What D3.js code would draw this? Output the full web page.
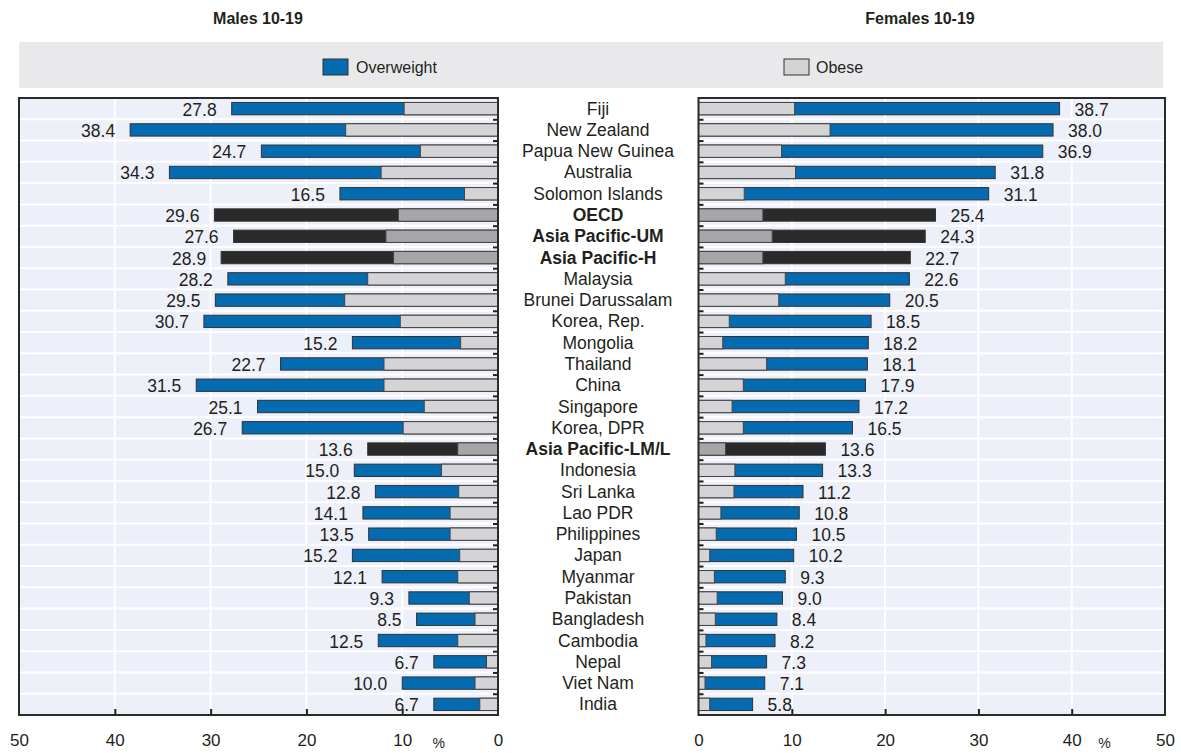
<!DOCTYPE html>
<html>
<head>
<script src="https://d3js.org/d3.v7.min.js"></script>
<style>
  body { margin: 0; background: #fff; }
  text { font-family: "Liberation Sans", Arial, sans-serif; fill: #231f20; }
</style>
</head>
<body>
<div id="chart"></div>
<script>
// categories, top to bottom
const countries = ["Fiji", "New Zealand", "Papua New Guinea", "Australia", "Solomon Islands",
  "OECD", "Asia Pacific-UM", "Asia Pacific-H", "Malaysia", "Brunei Darussalam", "Korea, Rep.",
  "Mongolia", "Thailand", "China", "Singapore", "Korea, DPR", "Asia Pacific-LM/L", "Indonesia",
  "Sri Lanka", "Lao PDR", "Philippines", "Japan", "Myanmar", "Pakistan", "Bangladesh",
  "Cambodia", "Nepal", "Viet Nam", "India"];
const aggregates = ["OECD", "Asia Pacific-UM", "Asia Pacific-H", "Asia Pacific-LM/L"];

// overweight (incl. obese) and obese, %
const maleOverweight = [27.8, 38.4, 24.7, 34.3, 16.5, 29.6, 27.6, 28.9, 28.2, 29.5, 30.7,
  15.2, 22.7, 31.5, 25.1, 26.7, 13.6, 15.0, 12.8, 14.1, 13.5, 15.2, 12.1, 9.3, 8.5, 12.5, 6.7, 10.0, 6.7];
const maleObese = [9.8, 15.9, 8.1, 12.2, 3.5, 10.4, 11.7, 10.9, 13.6, 16.0, 10.2,
  3.9, 11.9, 11.9, 7.7, 9.9, 4.2, 5.9, 4.1, 5.0, 5.0, 4.0, 4.2, 3.0, 2.4, 4.2, 1.2, 2.4, 1.9];
const femaleOverweight = [38.7, 38.0, 36.9, 31.8, 31.1, 25.4, 24.3, 22.7, 22.6, 20.5, 18.5,
  18.2, 18.1, 17.9, 17.2, 16.5, 13.6, 13.3, 11.2, 10.8, 10.5, 10.2, 9.3, 9.0, 8.4, 8.2, 7.3, 7.1, 5.8];
const femaleObese = [10.3, 14.1, 8.9, 10.4, 4.9, 6.9, 7.9, 6.9, 9.3, 8.6, 3.3,
  2.6, 7.3, 4.8, 3.6, 4.8, 2.9, 3.9, 3.8, 2.4, 1.9, 1.2, 1.7, 2.0, 1.8, 0.8, 1.4, 0.7, 1.2];

const xTicks = [0, 10, 20, 30, 40, 50];

const width = 1181, height = 753;
const plotTop = 98, plotBottom = 715;

const svg = d3.select("#chart").append("svg")
  .attr("width", width)
  .attr("height", height);

const y = d3.scaleBand().domain(countries).range([plotTop, plotBottom]).padding(0);
const rowIdx = d3.scaleLinear().domain([0, countries.length]).range([plotTop, plotBottom]);
const barH = y.bandwidth() * 0.58;

const colors = {
  over: "#046bb0", obese: "#d4d4d6",
  overAgg: "#2b2a2b", obeseAgg: "#a6a6a9"
};

// titles
svg.append("text").attr("x", 258).attr("y", 24).attr("text-anchor", "middle")
  .style("font-weight", "bold").style("font-size", "16px").text("Males 10-19");
svg.append("text").attr("x", 920).attr("y", 24).attr("text-anchor", "middle")
  .style("font-weight", "bold").style("font-size", "16px").text("Females 10-19");

// legend band
svg.append("rect").attr("x", 19).attr("y", 42).attr("width", 1144).attr("height", 46)
  .attr("fill", "#e9e9eb");
svg.append("rect").attr("x", 323).attr("y", 59).attr("width", 25).attr("height", 16)
  .attr("fill", colors.over).attr("stroke", "#333").attr("stroke-width", 1);
svg.append("text").attr("x", 356).attr("y", 73).style("font-size", "16px").text("Overweight");
svg.append("rect").attr("x", 784).attr("y", 59).attr("width", 25).attr("height", 16)
  .attr("fill", colors.obese).attr("stroke", "#333").attr("stroke-width", 1);
svg.append("text").attr("x", 816).attr("y", 73).style("font-size", "16px").text("Obese");

function drawPanel(x, overweight, obese, side, pctAt) {
  const g = svg.append("g");
  const [x0, x1] = d3.extent(x.range());

  g.append("rect").attr("x", x0).attr("y", plotTop).attr("width", x1 - x0).attr("height", plotBottom - plotTop)
    .attr("fill", "#edf0f8");

  // vertical grid
  g.selectAll(".vgrid").data([10, 20, 30, 40]).enter().append("line")
    .attr("x1", d => x(d)).attr("x2", d => x(d))
    .attr("y1", plotTop).attr("y2", plotBottom)
    .attr("stroke", "#fff").attr("stroke-width", 2);

  // row separators
  g.selectAll(".hgrid").data(d3.range(1, countries.length)).enter().append("line")
    .attr("x1", x0).attr("x2", x1)
    .attr("y1", d => rowIdx(d)).attr("y2", d => rowIdx(d))
    .attr("stroke", "#fff").attr("stroke-width", 2);

  const rows = countries.map((c, i) => ({
    name: c, total: overweight[i], obese: obese[i], agg: aggregates.includes(c)
  }));

  const bx = (a, b) => Math.min(x(a), x(b));
  const bw = (a, b) => Math.abs(x(a) - x(b));

  g.selectAll(".total").data(rows).enter().append("rect")
    .attr("x", d => bx(0, d.total)).attr("width", d => bw(0, d.total))
    .attr("y", d => y(d.name) + (y.bandwidth() - barH) / 2).attr("height", barH)
    .attr("fill", d => d.agg ? colors.overAgg : colors.over)
    .attr("stroke", "#333").attr("stroke-width", 1);

  g.selectAll(".obese").data(rows).enter().append("rect")
    .attr("x", d => bx(0, d.obese)).attr("width", d => bw(0, d.obese))
    .attr("y", d => y(d.name) + (y.bandwidth() - barH) / 2).attr("height", barH)
    .attr("fill", d => d.agg ? colors.obeseAgg : colors.obese)
    .attr("stroke", "#444").attr("stroke-width", 1);

  g.selectAll(".val").data(rows).enter().append("text")
    .attr("x", d => x(d.total) + (side === "left" ? -15 : 15))
    .attr("y", d => y(d.name) + y.bandwidth() / 2 + 7)
    .attr("text-anchor", side === "left" ? "end" : "start")
    .style("font-size", "17.5px")
    .text(d => d.total.toFixed(1));

  // inner axis with row ticks
  const inner = side === "left" ? d3.axisLeft(rowIdx) : d3.axisRight(rowIdx);
  g.append("g").attr("transform", "translate(" + x(0) + ",0)")
    .call(inner.tickValues(d3.range(1, countries.length)).tickSize(5).tickFormat(""))
    .call(a => a.select(".domain").remove())
    .call(a => a.selectAll("line").attr("stroke", "#231f20").attr("stroke-width", 2));

  // bottom ticks pointing up
  g.append("g").attr("transform", "translate(0," + plotBottom + ")")
    .call(d3.axisTop(x).tickValues([10, 20, 30, 40]).tickSize(6).tickFormat(""))
    .call(a => a.select(".domain").remove())
    .call(a => a.selectAll("line").attr("stroke", "#231f20").attr("stroke-width", 2));

  // bottom labels
  g.append("g").attr("transform", "translate(0," + plotBottom + ")")
    .call(d3.axisBottom(x).tickValues(xTicks).tickSize(0).tickPadding(19).tickFormat(d3.format("d")))
    .call(a => a.select(".domain").remove())
    .call(a => a.selectAll("text").style("font-size", "17px")
      .style("font-family", "Liberation Sans, Arial, sans-serif").attr("fill", "#231f20"));

  g.append("text").attr("x", x(pctAt)).attr("y", 748).attr("text-anchor", "middle")
    .style("font-size", "14px").text("%");

  // frame
  g.append("rect").attr("x", x0).attr("y", plotTop).attr("width", x1 - x0).attr("height", plotBottom - plotTop)
    .attr("fill", "none").attr("stroke", "#2b2a2b").attr("stroke-width", 2);
}

const xMale = d3.scaleLinear().domain([0, 50]).range([498, 19]);
const xFemale = d3.scaleLinear().domain([0, 50]).range([698.5, 1165]);

drawPanel(xMale, maleOverweight, maleObese, "left", 6.2);
drawPanel(xFemale, femaleOverweight, femaleObese, "right", 43.5);

// category labels
svg.selectAll(".cat").data(countries).enter().append("text")
  .attr("x", 598)
  .attr("y", d => y(d) + y.bandwidth() / 2 + 6)
  .attr("text-anchor", "middle")
  .style("font-size", "17.5px")
  .style("font-weight", d => aggregates.includes(d) ? "bold" : "normal")
  .text(d => d);
</script>
</body>
</html>
